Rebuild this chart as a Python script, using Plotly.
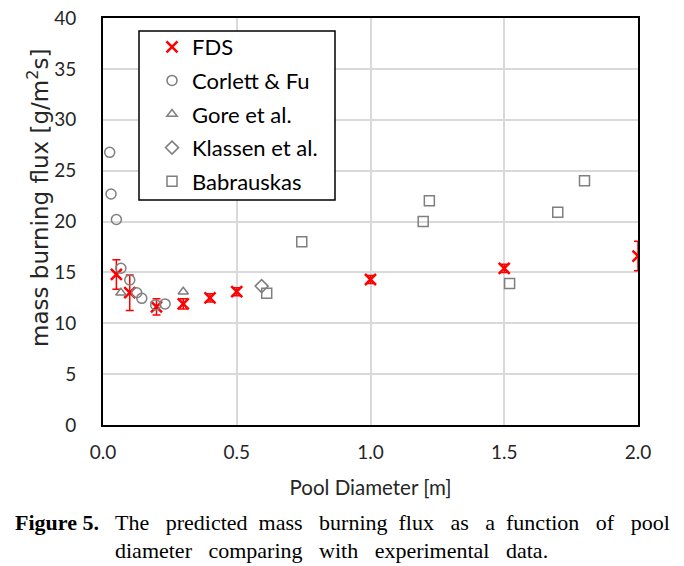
import plotly.graph_objects as go

# FDS predictions
fds_d = [0.05, 0.1, 0.2, 0.3, 0.4, 0.5, 1.0, 1.5, 2.0]
fds_m = [14.8, 13.0, 11.6, 11.9, 12.5, 13.1, 14.3, 15.4, 16.6]
fds_err = [1.45, 1.75, 0.8, 0.5, 0.4, 0.4, 0.4, 0.4, 1.45]

# Corlett & Fu
cf_d = [0.025, 0.03, 0.05, 0.067, 0.1, 0.126, 0.145, 0.197, 0.232]
cf_m = [26.8, 22.7, 20.2, 15.4, 14.25, 13.0, 12.45, 11.8, 11.9]

# Gore et al.
gore_d = [0.067, 0.3]
gore_m = [13.0, 13.1]

# Klassen et al.
kl_d = [0.593]
kl_m = [13.65]

# Babrauskas
bab_d = [0.612, 0.743, 1.197, 1.22, 1.52, 1.70, 1.80]
bab_m = [12.95, 18.0, 20.0, 22.05, 13.9, 20.9, 24.0]

x_ticks = [0.0, 0.5, 1.0, 1.5, 2.0]
x_tick_labels = ["0.0", "0.5", "1.0", "1.5", "2.0"]
y_ticks = [0, 5, 10, 15, 20, 25, 30, 35, 40]

gray = "#7f7f7f"
red = "#ff0000"
font = "Lato"

W, H = 684, 566
OFF = 8  # page offset of the figure inside the browser window
ML, MT, MR, MB = 95, 10, 54, 149
PW = W - ML - MR
PH = H - MT - MB


def px(x):
    return (x - OFF - ML) / PW


def py(y):
    return 1 - (y - OFF - MT) / PH


fig = go.Figure()
fig.add_trace(go.Scatter(
    x=fds_d, y=fds_m, mode="markers", name="FDS", legendgroup="a",
    marker=dict(symbol="x-thin", size=11, line=dict(color=red, width=2.5), color=red),
    error_y=dict(type="data", array=fds_err, color=red, thickness=1.5, width=4),
))
fig.add_trace(go.Scatter(
    x=cf_d, y=cf_m, mode="markers", name="Corlett & Fu", legendgroup="b",
    marker=dict(symbol="circle-open", size=10, color=gray, line=dict(width=1.5)),
))
fig.add_trace(go.Scatter(
    x=gore_d, y=gore_m, mode="markers", name="Gore et al.", legendgroup="c",
    marker=dict(symbol="triangle-up-open", size=9, color=gray, line=dict(width=1.5)),
))
fig.add_trace(go.Scatter(
    x=kl_d, y=kl_m, mode="markers", name="Klassen et al.", legendgroup="d",
    marker=dict(symbol="diamond-open", size=10, color=gray, line=dict(width=1.5)),
))
fig.add_trace(go.Scatter(
    x=bab_d, y=bab_m, mode="markers", name="Babrauskas", legendgroup="e",
    marker=dict(symbol="square-open", size=10, color=gray, line=dict(width=1.5)),
))

fig.update_layout(
    width=W, height=H,
    margin=dict(l=ML, r=MR, t=MT, b=MB, autoexpand=False),
    plot_bgcolor="white", paper_bgcolor="white",
    font=dict(family=font, size=19, color="#262626"),
    showlegend=True,
    legend=dict(
        x=px(152), y=py(26), xanchor="left", yanchor="top",
        bgcolor="rgba(0,0,0,0)", borderwidth=0,
        font=dict(family=font, size=22, color="black"),
        tracegroupgap=2, itemwidth=30,
    ),
    xaxis=dict(
        range=[0, 2.0], tickvals=x_ticks, ticktext=x_tick_labels,
        showgrid=True, gridcolor="#d9d9d9", gridwidth=1.5,
        showline=True, linecolor="black", linewidth=2, mirror=True,
        ticks="", zeroline=False, ticklabelstandoff=9, ticklabeloverflow="allow",
        automargin=False,
        title=dict(text="Pool Diameter [m]", font=dict(size=20.5, color="#262626"), standoff=19),
    ),
    yaxis=dict(
        range=[0, 40], tickvals=y_ticks,
        showgrid=True, gridcolor="#d9d9d9", gridwidth=1.5,
        showline=True, linecolor="black", linewidth=2, mirror=True,
        ticks="", zeroline=False, ticklabelstandoff=21, ticklabeloverflow="allow",
        automargin=False,
    ),
)

# legend frame
fig.add_shape(
    type="rect", xref="paper", yref="paper",
    x0=px(139), x1=px(335), y0=py(200), y1=py(31),
    line=dict(color="black", width=1.5), fillcolor="white", layer="above",
)

# y axis title
fig.add_annotation(
    x=px(38), y=py(198), xref="paper", yref="paper", showarrow=False,
    text="mass burning flux [g/m<sup>2</sup>s]", textangle=-90,
    font=dict(family="DejaVu Sans", size=23, color="#262626"),
    xanchor="center", yanchor="middle",
)

S2 = "\u00a0\u00a0"
S1 = "\u00a0"
line1 = ("<b>Figure 5.</b>" + S2 + " The" + S2 + " predicted" + S1 + " mass" + S2 + " burning"
         + S1 + " flux" + S2 + " as" + S2 + " a" + S1 + " function" + S2 + " of" + S2 + " pool")
line2 = "diameter" + S2 + " comparing" + S2 + " with" + S2 + " experimental" + S2 + " data."

fig.add_annotation(
    x=px(13), y=py(522), xref="paper", yref="paper", showarrow=False,
    text=line1, font=dict(family="Liberation Serif", size=22, color="black"),
    xanchor="left", yanchor="middle",
)
fig.add_annotation(
    x=px(113), y=py(550), xref="paper", yref="paper", showarrow=False,
    text=line2, font=dict(family="Liberation Serif", size=22, color="black"),
    xanchor="left", yanchor="middle",
)

fig.write_html("out.html")
